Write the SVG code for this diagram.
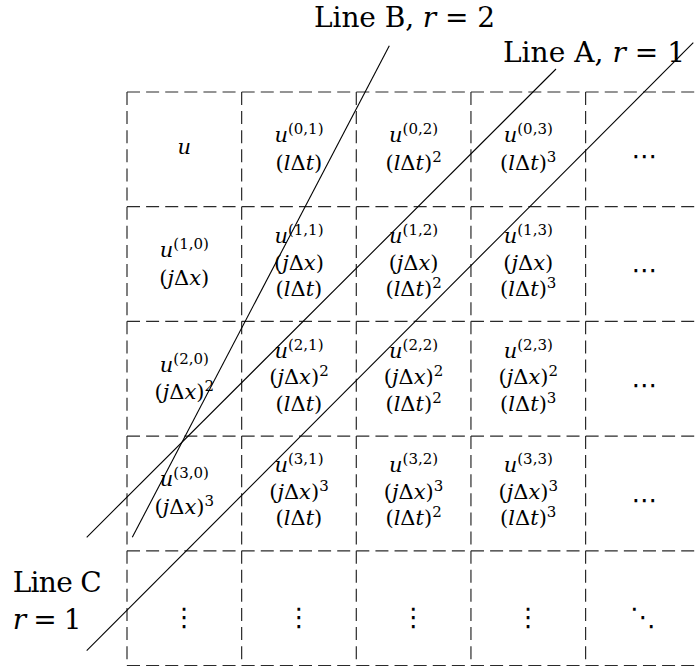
<svg xmlns="http://www.w3.org/2000/svg" width="698" height="668" viewBox="0 0 698 668">
<style>
.bg{fill:#fff}
.grid line{stroke:#2a2a2a;stroke-width:1.2;stroke-dasharray:13 6.11;fill:none}
.conn line{stroke:#000;stroke-width:1.1;fill:none}
.m{font-size:21px;fill:#000}
.i{font-style:italic}
.sup{font-size:15px}
.lbl{font-size:28px;fill:#000}
.dots{font-size:26px;fill:#000}
</style>
<rect class="bg" x="0" y="0" width="698" height="668"/>
<g id="grid" class="grid">
<line x1="127" y1="92" x2="698" y2="92"/>
<line x1="127" y1="206.7" x2="698" y2="206.7"/>
<line x1="127" y1="321.4" x2="698" y2="321.4"/>
<line x1="127" y1="436.1" x2="698" y2="436.1"/>
<line x1="127" y1="550.8" x2="698" y2="550.8"/>
<line x1="127" y1="665.5" x2="698" y2="665.5"/>
<line x1="127" y1="92" x2="127" y2="665.5"/>
<line x1="241.65" y1="92" x2="241.65" y2="665.5"/>
<line x1="356.3" y1="92" x2="356.3" y2="665.5"/>
<line x1="470.95" y1="92" x2="470.95" y2="665.5"/>
<line x1="585.6" y1="92" x2="585.6" y2="665.5"/>
</g>
<g id="cells" class="m" font-family="DejaVu Serif, serif" text-anchor="middle">
<g id="c00"><text x="184.3" y="154"><tspan class="i">u</tspan></text></g>
<g id="c01"><text x="298.95" y="142.35"><tspan class="i">u</tspan><tspan class="sup" dy="-8">(0,1)</tspan></text><text x="298.95" y="169.85">(<tspan class="i">l</tspan>Δ<tspan class="i">t</tspan>)</text></g>
<g id="c02"><text x="413.6" y="142.35"><tspan class="i">u</tspan><tspan class="sup" dy="-8">(0,2)</tspan></text><text x="413.6" y="169.85">(<tspan class="i">l</tspan>Δ<tspan class="i">t</tspan>)<tspan class="sup" dy="-8">2</tspan></text></g>
<g id="c03"><text x="528.25" y="142.35"><tspan class="i">u</tspan><tspan class="sup" dy="-8">(0,3)</tspan></text><text x="528.25" y="169.85">(<tspan class="i">l</tspan>Δ<tspan class="i">t</tspan>)<tspan class="sup" dy="-8">3</tspan></text></g>
<g id="c04"><text class="dots" font-family="DejaVu Sans, sans-serif" x="644.5" y="164.5">⋯</text></g>

<g id="c10"><text x="184.3" y="257.05"><tspan class="i">u</tspan><tspan class="sup" dy="-8">(1,0)</tspan></text><text x="184.3" y="284.55">(<tspan class="i">j</tspan>Δ<tspan class="i">x</tspan>)</text></g>
<g id="c11"><text x="298.95" y="243.05"><tspan class="i">u</tspan><tspan class="sup" dy="-8">(1,1)</tspan></text><text x="298.95" y="269.55">(<tspan class="i">j</tspan>Δ<tspan class="i">x</tspan>)</text><text x="298.95" y="296.05">(<tspan class="i">l</tspan>Δ<tspan class="i">t</tspan>)</text></g>
<g id="c12"><text x="413.6" y="243.05"><tspan class="i">u</tspan><tspan class="sup" dy="-8">(1,2)</tspan></text><text x="413.6" y="269.55">(<tspan class="i">j</tspan>Δ<tspan class="i">x</tspan>)</text><text x="413.6" y="296.05">(<tspan class="i">l</tspan>Δ<tspan class="i">t</tspan>)<tspan class="sup" dy="-8">2</tspan></text></g>
<g id="c13"><text x="528.25" y="243.05"><tspan class="i">u</tspan><tspan class="sup" dy="-8">(1,3)</tspan></text><text x="528.25" y="269.55">(<tspan class="i">j</tspan>Δ<tspan class="i">x</tspan>)</text><text x="528.25" y="296.05">(<tspan class="i">l</tspan>Δ<tspan class="i">t</tspan>)<tspan class="sup" dy="-8">3</tspan></text></g>
<g id="c14"><text class="dots" font-family="DejaVu Sans, sans-serif" x="644.5" y="279.2">⋯</text></g>

<g id="c20"><text x="184.3" y="371.75"><tspan class="i">u</tspan><tspan class="sup" dy="-8">(2,0)</tspan></text><text x="184.3" y="399.25">(<tspan class="i">j</tspan>Δ<tspan class="i">x</tspan>)<tspan class="sup" dy="-8">2</tspan></text></g>
<g id="c21"><text x="298.95" y="357.75"><tspan class="i">u</tspan><tspan class="sup" dy="-8">(2,1)</tspan></text><text x="298.95" y="384.25">(<tspan class="i">j</tspan>Δ<tspan class="i">x</tspan>)<tspan class="sup" dy="-8">2</tspan></text><text x="298.95" y="410.75">(<tspan class="i">l</tspan>Δ<tspan class="i">t</tspan>)</text></g>
<g id="c22"><text x="413.6" y="357.75"><tspan class="i">u</tspan><tspan class="sup" dy="-8">(2,2)</tspan></text><text x="413.6" y="384.25">(<tspan class="i">j</tspan>Δ<tspan class="i">x</tspan>)<tspan class="sup" dy="-8">2</tspan></text><text x="413.6" y="410.75">(<tspan class="i">l</tspan>Δ<tspan class="i">t</tspan>)<tspan class="sup" dy="-8">2</tspan></text></g>
<g id="c23"><text x="528.25" y="357.75"><tspan class="i">u</tspan><tspan class="sup" dy="-8">(2,3)</tspan></text><text x="528.25" y="384.25">(<tspan class="i">j</tspan>Δ<tspan class="i">x</tspan>)<tspan class="sup" dy="-8">2</tspan></text><text x="528.25" y="410.75">(<tspan class="i">l</tspan>Δ<tspan class="i">t</tspan>)<tspan class="sup" dy="-8">3</tspan></text></g>
<g id="c24"><text class="dots" font-family="DejaVu Sans, sans-serif" x="644.5" y="393.9">⋯</text></g>

<g id="c30"><text x="184.3" y="486.45"><tspan class="i">u</tspan><tspan class="sup" dy="-8">(3,0)</tspan></text><text x="184.3" y="513.95">(<tspan class="i">j</tspan>Δ<tspan class="i">x</tspan>)<tspan class="sup" dy="-8">3</tspan></text></g>
<g id="c31"><text x="298.95" y="472.45"><tspan class="i">u</tspan><tspan class="sup" dy="-8">(3,1)</tspan></text><text x="298.95" y="498.95">(<tspan class="i">j</tspan>Δ<tspan class="i">x</tspan>)<tspan class="sup" dy="-8">3</tspan></text><text x="298.95" y="525.45">(<tspan class="i">l</tspan>Δ<tspan class="i">t</tspan>)</text></g>
<g id="c32"><text x="413.6" y="472.45"><tspan class="i">u</tspan><tspan class="sup" dy="-8">(3,2)</tspan></text><text x="413.6" y="498.95">(<tspan class="i">j</tspan>Δ<tspan class="i">x</tspan>)<tspan class="sup" dy="-8">3</tspan></text><text x="413.6" y="525.45">(<tspan class="i">l</tspan>Δ<tspan class="i">t</tspan>)<tspan class="sup" dy="-8">2</tspan></text></g>
<g id="c33"><text x="528.25" y="472.45"><tspan class="i">u</tspan><tspan class="sup" dy="-8">(3,3)</tspan></text><text x="528.25" y="498.95">(<tspan class="i">j</tspan>Δ<tspan class="i">x</tspan>)<tspan class="sup" dy="-8">3</tspan></text><text x="528.25" y="525.45">(<tspan class="i">l</tspan>Δ<tspan class="i">t</tspan>)<tspan class="sup" dy="-8">3</tspan></text></g>
<g id="c34"><text class="dots" font-family="DejaVu Sans, sans-serif" x="644.5" y="508.6">⋯</text></g>

<g id="c40"><text class="dots" font-family="DejaVu Sans, sans-serif" x="184.3" y="625.5">⋮</text></g>
<g id="c41"><text class="dots" font-family="DejaVu Sans, sans-serif" x="298.95" y="625.5">⋮</text></g>
<g id="c42"><text class="dots" font-family="DejaVu Sans, sans-serif" x="413.6" y="625.5">⋮</text></g>
<g id="c43"><text class="dots" font-family="DejaVu Sans, sans-serif" x="528.25" y="625.5">⋮</text></g>
<g id="c44"><text class="dots" font-family="DejaVu Sans, sans-serif" x="643" y="625.5">⋱</text></g>
</g>
<g id="connectors" class="conn">
<line id="lineB" x1="389.3" y1="45.7" x2="132.3" y2="537.3"/>
<line id="lineA" x1="86.7" y1="537.3" x2="556" y2="69"/>
<line id="lineC" x1="86.7" y1="650.7" x2="693.3" y2="42.7"/>
</g>
<g id="labels" class="lbl" font-family="DejaVu Serif, serif">
<text x="314" y="26.5" textLength="181" lengthAdjust="spacing">Line B, <tspan class="i">r</tspan> = 2</text>
<text x="503" y="61.7" textLength="182" lengthAdjust="spacing">Line A, <tspan class="i">r</tspan> = 1</text>
<text x="12.7" y="591.5" textLength="89" lengthAdjust="spacing">Line C</text>
<text x="12.7" y="629" textLength="69" lengthAdjust="spacing"><tspan class="i">r</tspan> = 1</text>
</g>
</svg>
